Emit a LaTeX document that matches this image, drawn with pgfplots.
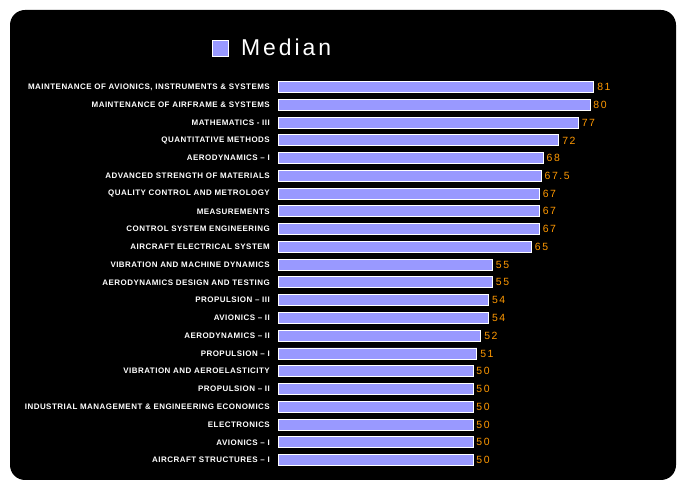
\documentclass[border=0pt]{standalone}
\usepackage{fontspec}
\setmainfont{Liberation Sans}
\newfontfamily\lblfont{Liberation Sans}[LetterSpace=6]
\newfontfamily\valfont{Liberation Sans}[LetterSpace=15]
\newfontfamily\legfont{Liberation Sans}[LetterSpace=13]
\usepackage{pgfplots}
\usepackage{pgfplotstable}
\pgfplotsset{compat=1.18}
\definecolor{barblue}{RGB}{153,153,255}
\definecolor{valorange}{RGB}{255,153,0}

\pgfplotstableread{
idx val
0 81
1 80
2 77
3 72
4 68
5 67.5
6 67
7 67
8 67
9 65
10 55
11 55
12 54
13 54
14 52
15 51
16 50
17 50
18 50
19 50
20 50
21 50
}\medians

\begin{document}
\begin{tikzpicture}
% page and black panel
\fill[white] (0,0) rectangle (687bp,491bp);
\fill[black, rounded corners=15bp] (10bp,11bp) rectangle (676bp,481bp);
\begin{axis}[
    at={(278bp,22.1bp)}, anchor=south west,
    scale only axis,
    width=390bp, height=390.7bp,
    xbar, bar width=11bp,
    xmin=0, xmax=100,
    ymin=-0.5, ymax=21.5,
    y dir=reverse,
    hide x axis,
    axis y line*=left,
    y axis line style={draw=none},
    major tick length=0pt,
    ytick={0,...,21},
    yticklabels={
        {MAINTENANCE OF AVIONICS, INSTRUMENTS \& SYSTEMS},
        {MAINTENANCE OF AIRFRAME \& SYSTEMS},
        {MATHEMATICS - III},
        {QUANTITATIVE METHODS},
        {AERODYNAMICS – I},
        {ADVANCED STRENGTH OF MATERIALS},
        {QUALITY CONTROL AND METROLOGY},
        {MEASUREMENTS},
        {CONTROL SYSTEM ENGINEERING},
        {AIRCRAFT ELECTRICAL SYSTEM},
        {VIBRATION AND MACHINE DYNAMICS},
        {AERODYNAMICS DESIGN AND TESTING},
        {PROPULSION – III},
        {AVIONICS – II},
        {AERODYNAMICS – II},
        {PROPULSION – I},
        {VIBRATION AND AEROELASTICITY},
        {PROPULSION – II},
        {INDUSTRIAL MANAGEMENT \& ENGINEERING ECONOMICS},
        {ELECTRONICS},
        {AVIONICS – I},
        {AIRCRAFT STRUCTURES – I}},
    yticklabel style={text=white, inner sep=0pt, anchor=east, xshift=-8bp,
        font=\lblfont\bfseries\fontsize{8}{9}\selectfont},
    point meta=x,
    /pgf/number format/assume math mode=true,
    nodes near coords={\pgfmathprintnumber{\pgfplotspointmeta}},
    every node near coord/.append style={anchor=west, inner sep=0pt, xshift=3bp,
        text=valorange, font=\valfont\fontsize{10.5}{11}\selectfont},
    legend style={draw=none, fill=none, inner sep=0pt, text=white,
        at={(axis description cs:-0.169,1.077)}, anchor=west,
        font=\legfont\fontsize{23}{24}\selectfont,
        /tikz/every odd column/.append style={column sep=10bp}},
    legend image code/.code={
        \draw[fill=barblue, draw=white, line width=0.8bp] (0bp,-8bp) rectangle (16bp,8bp);},
]
\addplot[fill=barblue, draw=white, line width=0.9bp] table[x=val, y=idx] {\medians};
\addlegendentry{Median}
\end{axis}
\end{tikzpicture}
\end{document}
